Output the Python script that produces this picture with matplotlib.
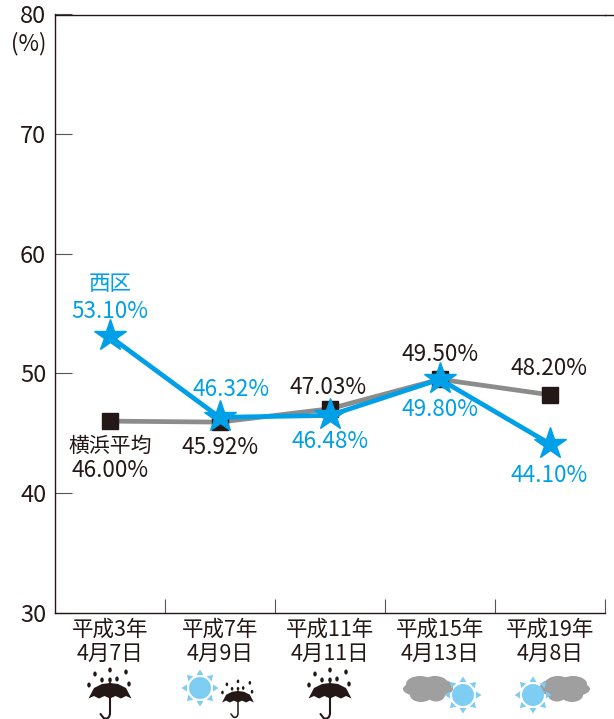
import matplotlib
matplotlib.use("Agg")
import matplotlib.pyplot as plt
from matplotlib.patches import Circle, Ellipse, Polygon
import numpy as np

plt.rcParams["font.family"] = ["Noto Sans CJK JP", "DejaVu Sans"]

dates = ["平成3年\n4月7日", "平成7年\n4月9日", "平成11年\n4月11日", "平成15年\n4月13日", "平成19年\n4月8日"]
yokohama = [46.00, 45.92, 47.03, 49.50, 48.20]
nishi = [53.10, 46.32, 46.48, 49.50, 44.10]
yokohama_labels = ["46.00%", "45.92%", "47.03%", "49.50%", "48.20%"]
nishi_labels = ["53.10%", "46.32%", "46.48%", "49.80%", "44.10%"]
yticks = [30, 40, 50, 60, 70, 80]

BLACK = "#231815"
BLUE = "#00a0e9"
GREY = "#8c8c8c"
SUN = "#7ecef4"
CLOUD = "#9f9f9f"
W, H = 614, 719

fig = plt.figure(figsize=(W / 100, H / 100), dpi=100)
ax = fig.add_axes([54.5 / W, 1 - 612.5 / H, 550.5 / W, 598 / H])
x = np.arange(len(dates))
ax.plot(x, yokohama, color=GREY, lw=3.4, marker="s", ms=12, mfc=BLACK, mec=BLACK, zorder=3)
ax.plot(x, nishi, color=BLUE, lw=3.4, marker="*", ms=24, mfc=BLUE, mec=BLUE, zorder=4)
ax.set_xlim(-0.5, 4.5)
ax.set_ylim(30, 80)
ax.set_yticks(yticks)
ax.set_xticks(x + 0.5)
ax.set_xticklabels([])
ax.tick_params(axis="y", direction="in", length=12, width=0.8, color="#555555", labelsize=17, labelcolor=BLACK, pad=6)
ax.tick_params(axis="x", direction="in", length=10, width=0.8, color="#555555")
ax.spines["right"].set_visible(False)
for s in ["left", "bottom", "top"]:
    ax.spines[s].set_color(BLACK)
    ax.spines[s].set_linewidth(1)

# overlay in pixel coordinates for labels and weather icons
ov = fig.add_axes([0, 0, 1, 1])
ov.set_xlim(0, W)
ov.set_ylim(H, 0)
ov.axis("off")
ov.patch.set_alpha(0)
ov.set_zorder(5)


def label(px, py, s, color=BLACK, size=16.2):
    ov.text(px, py + 1.5, s, color=color, fontsize=size, ha="center", va="center")


label(29, 42, "(%)", size=16)
ov.plot([605, 614], [14.5, 14.5], color=BLACK, lw=1)
centers = [110, 220, 330, 440, 550]
for cx, d in zip(centers, dates):
    a, b = d.split("\n")
    label(cx, 628, a, size=15.5)
    label(cx, 652, b, size=15.5)

label(110, 283, "西区", BLUE, 15.5)
y_pos = [(110, 469), (220, 446), (328, 386), (440, 353), (549, 367)]
n_pos = [(110, 310), (231, 388), (330, 440), (440, 408), (549, 474)]
for (px, py), s in zip(y_pos, yokohama_labels):
    label(px, py, s)
for (px, py), s in zip(n_pos, nishi_labels):
    label(px, py, s, BLUE)
label(110, 444, "横浜平均", size=15)


def sun(cx, cy):
    ov.add_patch(Circle((cx, cy), 11, fc=SUN, ec="none"))
    for a in np.arange(8) * np.pi / 4:
        u = np.array([np.cos(a), np.sin(a)])
        n = np.array([-u[1], u[0]])
        c = np.array([cx, cy])
        ov.add_patch(Polygon([c + u * 13 + n * 3.5, c + u * 13 - n * 3.5, c + u * 18.5], fc=SUN, ec="none"))


def cloud(cx, cy, flip=1):
    ov.add_patch(Ellipse((cx, cy), 50, 17, fc=CLOUD, ec="none"))
    for dx, dy, w, h in [(-8, -5, 28, 16), (7, -5, 26, 16), (15, -2, 20, 14), (-7, 6, 22, 14), (8, 6, 18, 13)]:
        ov.add_patch(Ellipse((cx + flip * dx, cy + dy), w, h, fc=CLOUD, ec="none"))


def umbrella(cx, top, k=1.0):
    verts = [(-21.5, 15.5), (-16, 5), (-8, 1), (0, 0), (8, 1), (16, 5), (21.5, 15.5), (16, 13), (11, 15.5), (5.5, 13),
             (0, 15.5), (-5.5, 13), (-11, 15.5), (-16, 13), (-21.5, 15.5)]
    ov.add_patch(Polygon([(cx + k * a, top + k * b) for a, b in verts], fc=BLACK, ec="none"))
    hx = [0, 0, -1, -3, -6, -9.5]
    hy = [0, 31, 34, 35.5, 35.5, 31]
    ov.plot([cx + k * a for a in hx], [top + k * b for b in hy], color=BLACK, lw=1.5 * k, solid_capstyle="round")
    for a, b in [(-21, 2), (-15, -9), (-8, -3), (0, -13), (0, -3), (7, -4), (16, -11), (19, 1)]:
        ov.add_patch(Ellipse((cx + k * a, top + k * b), 3.5 * k, 5 * k, fc=BLACK, ec="none"))


umbrella(110, 683)
sun(200, 688)
umbrella(238, 691, 0.74)
umbrella(330, 683)
cloud(428, 689)
sun(463, 695)
cloud(565, 689, -1)
sun(533, 695)

fig.savefig("out.png", dpi=100)
